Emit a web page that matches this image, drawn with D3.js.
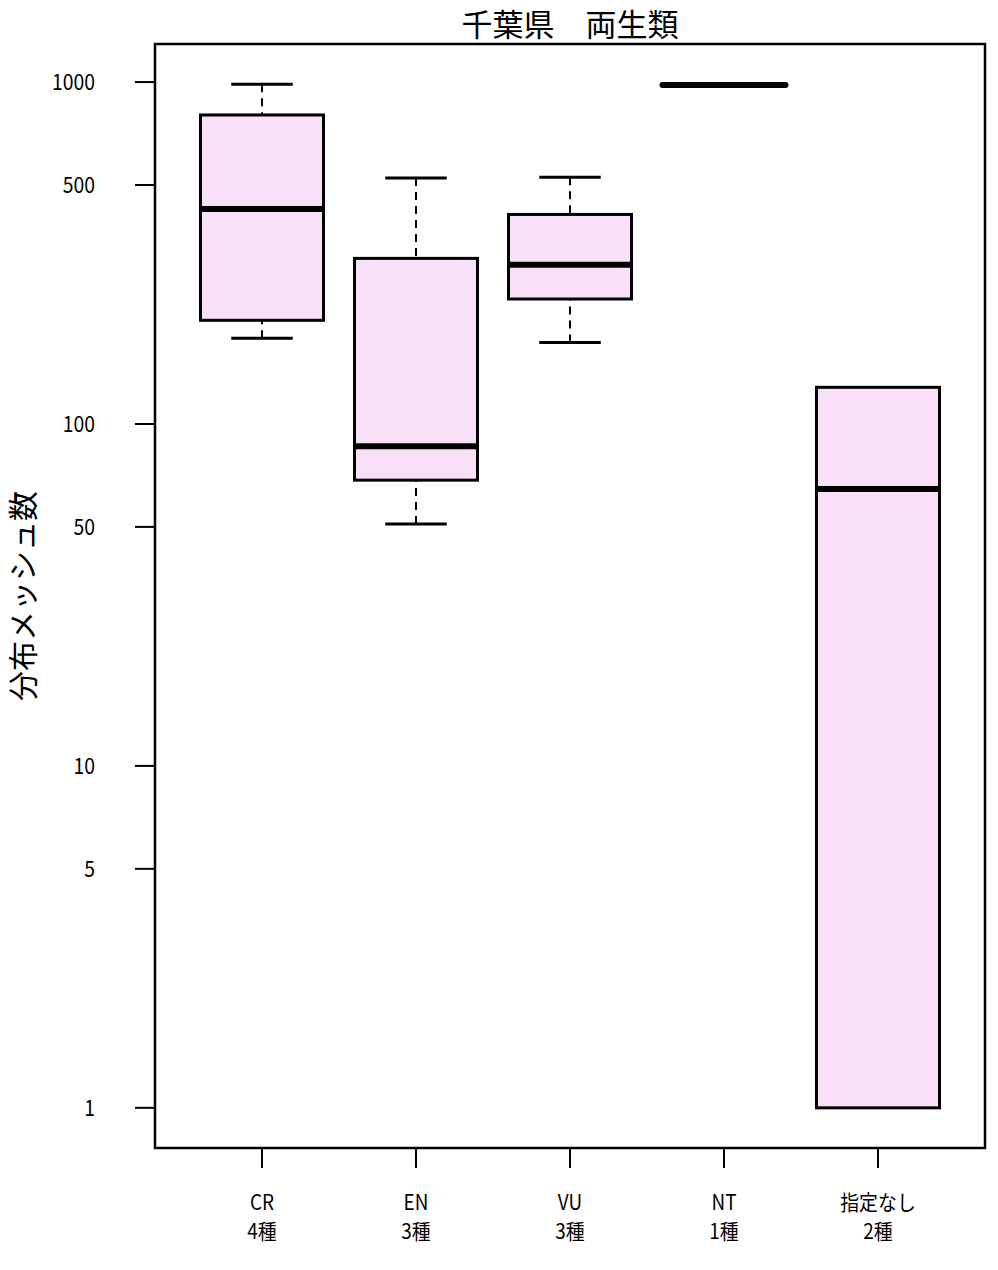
<!DOCTYPE html>
<html lang="ja">
<head>
<meta charset="utf-8"/>
<script src="https://d3js.org/d3.v7.min.js"></script>
<style>
  body { margin: 0; background: #fff; }
  text { font-family: "Noto Sans CJK JP", sans-serif; fill: #000; }
</style>
</head>
<body>
<svg id="chart" width="998" height="1270"></svg>
<script>
  // categories and five-number summaries
  const categories = ["CR", "EN", "VU", "NT", "指定なし"];
  const counts = ["4種", "3種", "3種", "1種", "2種"];
  const whiskerLow = [178, 51, 173, 980, 1];
  const hingeLow = [201, 68.5, 232, 980, 1];
  const medians = [425, 86, 292, 980, 64.5];
  const hingeHigh = [801, 305, 410, 980, 128];
  const whiskerHigh = [986, 524, 527, 980, 128];
  const yTicks = [1, 5, 10, 50, 100, 500, 1000];

  const svg = d3.select("#chart");
  const plot = { left: 155, right: 985, top: 44, bottom: 1148 };

  const y = d3.scaleLog().domain([0.763, 1292]).range([plot.bottom, plot.top]);
  const x = d3.scalePoint().domain(categories).range([262, 878]);
  const boxW = 123;

  const data = categories.map((c, i) => ({
    cat: c, n: counts[i],
    wl: whiskerLow[i], hl: hingeLow[i], med: medians[i], hh: hingeHigh[i], wh: whiskerHigh[i]
  }));

  // title
  svg.append("text").attr("x", (plot.left + plot.right) / 2).attr("y", 36)
    .attr("text-anchor", "middle").style("font-size", "31px").text("千葉県　両生類");

  // y label
  svg.append("text").attr("transform", "translate(21," + (plot.top + plot.bottom) / 2 + ") rotate(-90)")
    .attr("text-anchor", "middle").attr("dominant-baseline", "central")
    .style("font-size", "30px").text("分布メッシュ数");

  // y axis
  const yAxis = svg.append("g");
  yAxis.selectAll("line").data(yTicks).join("line")
    .attr("x1", 135).attr("x2", plot.left)
    .attr("y1", d => y(d)).attr("y2", d => y(d))
    .attr("stroke", "#000").attr("stroke-width", 2);
  yAxis.selectAll("text").data(yTicks).join("text")
    .attr("transform", d => "translate(95," + (y(d) + 8) + ") scale(0.88,1)")
    .attr("text-anchor", "end").style("font-size", "22px").text(d => d);

  // x axis
  const xAxis = svg.append("g");
  xAxis.selectAll("line").data(categories).join("line")
    .attr("x1", d => x(d)).attr("x2", d => x(d))
    .attr("y1", plot.bottom).attr("y2", plot.bottom + 20)
    .attr("stroke", "#000").attr("stroke-width", 2);
  xAxis.selectAll("text.cat").data(data).join("text").attr("class", "cat")
    .attr("transform", d => "translate(" + x(d.cat) + ",1210) scale(0.9,1)")
    .attr("text-anchor", "middle").style("font-size", "21px").text(d => d.cat);
  xAxis.selectAll("text.n").data(data).join("text").attr("class", "n")
    .attr("transform", d => "translate(" + x(d.cat) + ",1239) scale(0.9,1)")
    .attr("text-anchor", "middle").style("font-size", "21px").text(d => d.n);

  // boxes
  const g = svg.append("g").selectAll("g").data(data).join("g");
  g.filter(d => d.wh > d.hh).append("line")
    .attr("x1", d => x(d.cat)).attr("x2", d => x(d.cat))
    .attr("y1", d => y(d.wh)).attr("y2", d => y(d.hh))
    .attr("stroke", "#000").attr("stroke-width", 2).attr("stroke-dasharray", "8,6");
  g.filter(d => d.wl < d.hl).append("line")
    .attr("x1", d => x(d.cat)).attr("x2", d => x(d.cat))
    .attr("y1", d => y(d.wl)).attr("y2", d => y(d.hl))
    .attr("stroke", "#000").attr("stroke-width", 2).attr("stroke-dasharray", "8,6");
  g.filter(d => d.wh > d.hh).append("line")
    .attr("x1", d => x(d.cat) - boxW / 4).attr("x2", d => x(d.cat) + boxW / 4)
    .attr("y1", d => y(d.wh)).attr("y2", d => y(d.wh))
    .attr("stroke", "#000").attr("stroke-width", 3);
  g.filter(d => d.wl < d.hl).append("line")
    .attr("x1", d => x(d.cat) - boxW / 4).attr("x2", d => x(d.cat) + boxW / 4)
    .attr("y1", d => y(d.wl)).attr("y2", d => y(d.wl))
    .attr("stroke", "#000").attr("stroke-width", 3);
  g.filter(d => d.hh > d.hl).append("rect")
    .attr("x", d => x(d.cat) - boxW / 2).attr("width", boxW)
    .attr("y", d => y(d.hh)).attr("height", d => y(d.hl) - y(d.hh))
    .attr("fill", "#f8e0f8").attr("stroke", "#000").attr("stroke-width", 3);
  g.append("line")
    .attr("x1", d => x(d.cat) - boxW / 2).attr("x2", d => x(d.cat) + boxW / 2)
    .attr("y1", d => y(d.med)).attr("y2", d => y(d.med))
    .attr("stroke", "#000").attr("stroke-width", 6).attr("stroke-linecap", d => d.hh > d.hl ? "butt" : "round");

  // frame
  svg.append("rect").attr("x", plot.left).attr("y", plot.top)
    .attr("width", plot.right - plot.left).attr("height", plot.bottom - plot.top)
    .attr("fill", "none").attr("stroke", "#000").attr("stroke-width", 2.5);
</script>
</body>
</html>
